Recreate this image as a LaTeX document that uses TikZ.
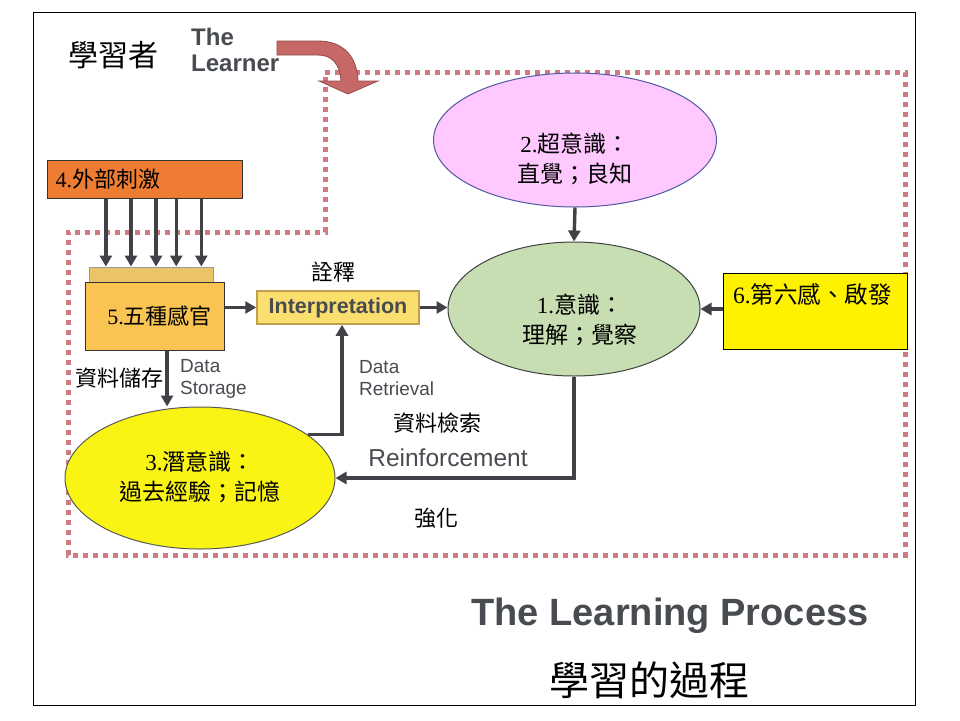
\documentclass[tikz,border=0pt]{standalone}
\usepackage{fontspec}
\setmainfont{Liberation Serif}
\setsansfont{Liberation Sans}
\newfontfamily\cjk{Noto Sans CJK TC}
\usetikzlibrary{arrows.meta,shapes.geometric,calc}
\definecolor{arrowgray}{RGB}{65,66,72}
\definecolor{dotred}{RGB}{206,122,128}
\definecolor{engray}{RGB}{72,75,80}
\definecolor{orangebox}{RGB}{238,124,50}
\definecolor{goldbox}{RGB}{249,196,82}
\definecolor{stripgold}{RGB}{236,196,104}
\definecolor{interpfill}{RGB}{250,222,110}
\definecolor{interpdraw}{RGB}{190,160,80}
\definecolor{greenell}{RGB}{198,222,178}
\definecolor{pinkell}{RGB}{255,200,255}
\definecolor{pinkborder}{RGB}{80,90,160}
\definecolor{yellowell}{RGB}{250,244,20}
\definecolor{bentfill}{RGB}{198,104,104}
\definecolor{bentdraw}{RGB}{150,72,72}
\newcommand{\fs}[2]{\fontsize{#1}{#2}\selectfont}
\begin{document}
\begin{tikzpicture}[x=1pt,y=-1pt,
  arr/.style={draw=arrowgray, line width=3.4pt, -{Triangle[length=11pt,width=12pt]}},
  dotline/.style={draw=dotred, line width=5pt, dash pattern=on 5pt off 5pt},
  boxnode/.style={draw=black!80, line width=1pt, inner sep=0pt},
  ellnode/.style={ellipse, inner sep=0pt, line width=1pt},
  zhtext/.style={inner sep=0pt, font=\cjk\fs{22}{26}},
  zhbig/.style={inner sep=0pt, font=\cjk\fs{23}{30}, align=center},
  entext/.style={inner sep=0pt, text=engray, font=\sffamily\fs{19}{22}, align=left}
]
\useasboundingbox (0,0) rectangle (960,720);
\fill[white] (0,0) rectangle (960,720);
\draw[black, line width=1pt] (33,12) rectangle (915,705);

% dotted learner border
\draw[dotline] (325,72) -- (905,72) -- (905,555) -- (68,555) -- (68,232) -- (325,232) -- cycle;

% bent arrow
\filldraw[fill=bentfill, draw=bentdraw, line width=0.8pt]
  (277,41) -- (318,41) .. controls (343,41) and (357,56) .. (358,81)
  -- (378,81) -- (348,94) -- (319,81) -- (341,81)
  .. controls (340,64) and (332,55) .. (318,55) -- (277,55) -- cycle;

% titles
\node[inner sep=0pt, font=\cjk\fs{30}{34}] (learnerzh) at (113,55) {學習者};
\node[inner sep=0pt, text=engray, font=\sffamily\bfseries\fs{24}{26}, align=left, anchor=west] (learneren) at (191,50) {The\\Learner};

% nodes
\node[boxnode, fill=orangebox, minimum width=195pt, minimum height=38pt] (stim) at (144.5,179) {};
\node[inner sep=0pt, anchor=west, font=\fs{22}{24}] (stimt) at ($(stim.west)+(9,0)$) {4.{\cjk 外部刺激}};

\node[boxnode, draw=black!40, fill=stripgold, minimum width=124pt, minimum height=15pt] (strip) at (151,274.5) {};
\node[boxnode, fill=goldbox, minimum width=139pt, minimum height=68pt, font=\fs{22}{24}] (sense) at (154.5,316) {\hspace*{10pt}5.{\cjk 五種感官}};

\node[boxnode, draw=interpdraw, line width=1.5pt, fill=interpfill, minimum width=162pt, minimum height=33pt,
      text=engray, font=\sffamily\bfseries\fs{21.5}{24}] (interp) at (338,307.5) {Interpretation};

\node[ellnode, draw=black!75, fill=greenell, minimum width=252pt, minimum height=134pt] (cons) at (574,309) {};
\node[zhbig] (const) at (580,320) {{\rmfamily 1.}\cjk 意識：\\ 理解；覺察};

\node[ellnode, draw=pinkborder, fill=pinkell, minimum width=283pt, minimum height=134pt] (super) at (575,140) {};
\node[zhbig] (supert) at (575,159) {{\rmfamily 2.}\cjk 超意識：\\ 直覺；良知};

\node[boxnode, draw=black, fill=yellow, minimum width=184pt, minimum height=76pt] (six) at (815,311) {};
\node[inner sep=0pt, anchor=west, font=\fs{23.5}{26}] (sixt) at (733,294) {6.{\cjk 第六感、啟發}};

\node[ellnode, draw=black!65, fill=yellowell, minimum width=270pt, minimum height=142pt] (sub) at (200,478) {};
\node[zhbig] (subt) at (200,477) {{\rmfamily 3.}\cjk 潛意識：\\ 過去經驗；記憶};

% labels
\node[zhtext] (quan) at (333,272) {詮釋};
\node[zhtext, anchor=east] (storzh) at (164,378) {資料儲存};
\node[entext, anchor=west] (storen) at (180,379) {Data\\Storage};
\node[entext, anchor=west] (retren) at (359,378) {Data\\Retrieval};
\node[zhtext] (retrzh) at (437,423) {資料檢索};
\node[inner sep=0pt, text=engray, font=\sffamily\fs{24.5}{26}] (reinen) at (448,458) {Reinforcement};
\node[zhtext] (reinzh) at (436,518) {強化};
\node[inner sep=0pt, text=engray, font=\sffamily\bfseries\fs{38}{40}] (procen) at (670,616) {The Learning Process};
\node[inner sep=0pt, font=\cjk\fs{40}{44}] (proczh) at (649,680) {學習的過程};

% connectors
\foreach \f/\n in {0.303/a,0.431/b,0.559/c,0.662/d,0.790/e}{
  \coordinate (s\n) at ($(stim.south west)!\f!(stim.south east)$);
  \draw[arr] (s\n) -- (s\n |- strip.north);
}
\draw[arr] (sense.east |- interp.west) -- (interp.west);
\draw[arr] (interp.east) -- (interp.east -| cons.west);
\draw[arr] (super.south) -- (cons.north);
\draw[arr] (six.west |- cons.east) -- (cons.east);
\coordinate (ds) at ($(sense.south west)!0.59!(sense.south east)$);
\draw[arr] (ds) -- (ds |- sub.north);
\coordinate (dr) at ($(interp.south)+(4,0)$);
\draw[arr] (sub.22) -| (dr);
\draw[arr] (cons.south) |- (sub.east);
\end{tikzpicture}
\end{document}
